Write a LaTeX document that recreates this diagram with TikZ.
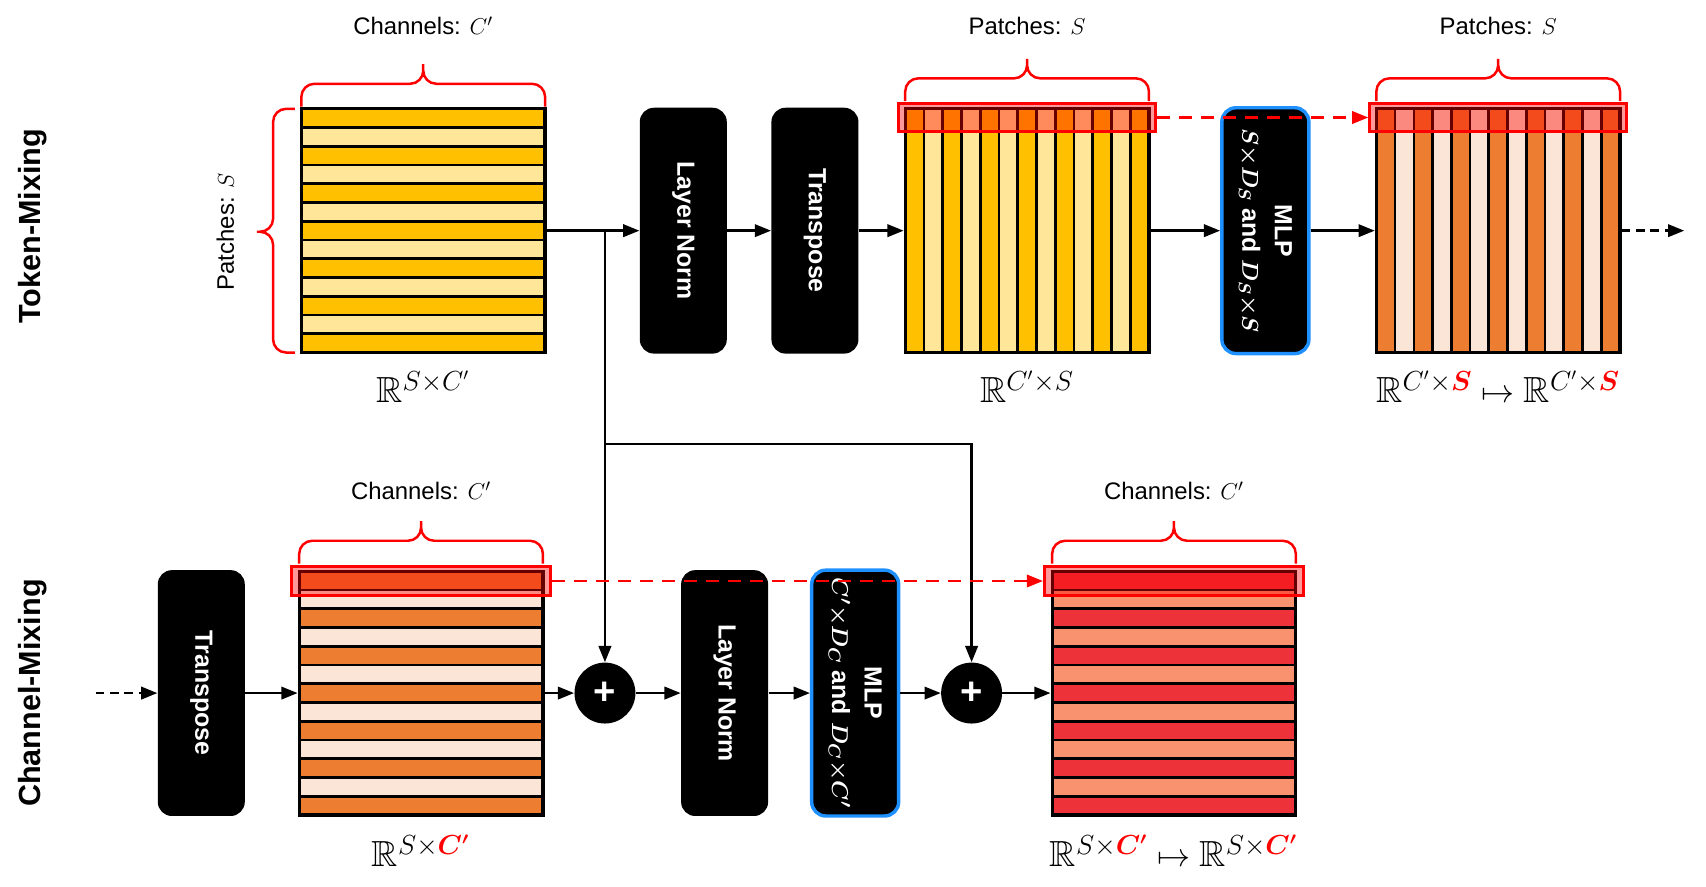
\documentclass[tikz,border=0pt]{standalone}
\usepackage{amsmath}
\usepackage{amssymb}
\usepackage{fontspec}
\setmainfont{Liberation Sans}
\usetikzlibrary{positioning,arrows.meta,calc}

\definecolor{yelDark}{HTML}{FFC000}
\definecolor{yelLight}{HTML}{FFE699}
\definecolor{orgDark}{HTML}{ED7D31}
\definecolor{orgLight}{HTML}{FBE5D6}
\definecolor{redDark}{HTML}{EE3239}
\definecolor{redLight}{HTML}{F9926E}
\definecolor{mlpBlue}{HTML}{1E90FF}
\definecolor{selRed}{HTML}{FF0000}

\tikzset{
  stripe/.style={draw=black, line width=1.4pt},
  matbox/.style={draw=black, line width=1.7pt, minimum width=4.48cm, minimum height=4.48cm, inner sep=0pt},
  opbox/.style={fill=black, rounded corners=0.26cm, minimum width=1.6cm, minimum height=4.52cm, inner sep=0pt},
  mlpbox/.style={opbox, draw=mlpBlue, line width=1.8pt},
  optext/.style={text=white, font=\bfseries\fontsize{13}{17}\selectfont, rotate=-90, align=center},
  addnode/.style={circle, fill=black, minimum size=1.12cm, inner sep=0pt, text=white, font=\bfseries\fontsize{20}{20}\selectfont},
  selbox/.style={draw=selRed, line width=1.6pt, fill=selRed, fill opacity=0.4, draw opacity=1, inner sep=0pt},
  bracestyle/.style={draw=selRed, line width=1.3pt},
  lbl/.style={font=\fontsize{12.5}{15}\selectfont},
  dimlbl/.style={font=\fontsize{19}{22}\selectfont},
  rowlbl/.style={rotate=90, font=\bfseries\fontsize{16}{19}\selectfont},
  conn/.style={line width=1.3pt, -{Triangle[length=8.5pt,width=6.5pt]}},
  dashconn/.style={conn, dash pattern=on 4.5pt off 3pt},
  seldash/.style={draw=selRed, line width=1.3pt, dash pattern=on 7pt off 4.5pt, -{Triangle[length=8.5pt,width=6.5pt]}}
}

% striped matrices: centre x, centre y, dark colour, light colour
\newcommand{\hstripes}[4]{%
  \foreach \i in {0,...,12}{
    \ifodd\i \def\stripecol{#4}\else\def\stripecol{#3}\fi
    \draw[stripe, fill=\stripecol] ({#1-112},{#2+112-\i*224/13}) rectangle ({#1+112},{#2+112-(\i+1)*224/13});
  }}
\newcommand{\vstripes}[4]{%
  \foreach \i in {0,...,12}{
    \ifodd\i \def\stripecol{#4}\else\def\stripecol{#3}\fi
    \draw[stripe, fill=\stripecol] ({#1-112+\i*224/13},{#2-112}) rectangle ({#1-112+(\i+1)*224/13},{#2+112});
  }}
% curly brace over a matrix: left x, right x, base y
\newcommand{\topbrace}[3]{%
  \draw[bracestyle] (#1,#3) -- ++(0,9) arc[start angle=180,end angle=90,radius=0.24cm]
    -- ({(#1+#2)/2-12},{#3+21}) arc[start angle=-90,end angle=0,radius=0.24cm]
    -- ({(#1+#2)/2},{#3+39}) -- ({(#1+#2)/2},{#3+33})
    arc[start angle=180,end angle=270,radius=0.24cm]
    -- ({#2-12},{#3+21}) arc[start angle=90,end angle=0,radius=0.24cm] -- (#2,#3);}

\begin{document}
\begin{tikzpicture}[x=0.02cm,y=0.02cm]
  \useasboundingbox (0,0) rectangle (1568,-815);

  % row titles
  \node[rowlbl] (tokmix) at (30,-208) {Token-Mixing};
  \node[rowlbl] (chmix) at (30,-637) {Channel-Mixing};

  % ---- token mixing ----
  \hstripes{389}{-212}{yelDark}{yelLight}
  \node[matbox] (m1) at (389,-212) {};
  \vstripes{944}{-212}{yelDark}{yelLight}
  \node[matbox] (m2) at (944,-212) {};
  \vstripes{1377}{-212}{orgDark}{orgLight}
  \node[matbox] (m3) at (1377,-212) {};

  \node[opbox] (ln1) at (628,-212) {};
  \node[optext] (ln1txt) at (ln1) {Layer Norm};
  \node[opbox] (tr1) at (749,-212) {};
  \node[optext] (tr1txt) at (tr1) {Transpose};
  \node[mlpbox] (mlp1) at (1163,-212) {};
  \node[optext] (mlp1txt) at (mlp1) {MLP\\$\boldsymbol{S{\times}D_S}$ and $\boldsymbol{D_S{\times}S}$};

  \node[selbox, minimum width=4.72cm, minimum height=0.5cm] (ov2) at (944,-108) {};
  \node[selbox, minimum width=4.72cm, minimum height=0.5cm] (ov3) at (1377,-108) {};

  \topbrace{277}{501}{-98}
  \draw[bracestyle] (271,-100) -- ++(-8,0) arc[start angle=90,end angle=180,radius=0.24cm]
    -- (251,-201) arc[start angle=0,end angle=-90,radius=0.24cm] -- (236,-213) -- (239,-213)
    arc[start angle=90,end angle=0,radius=0.24cm] -- (251,-312)
    arc[start angle=180,end angle=270,radius=0.24cm] -- (271,-324);
  \topbrace{832}{1056}{-93}
  \topbrace{1265}{1489}{-93}

  \node[lbl] (chan1) at (389,-24) {Channels: $C'$};
  \node[lbl, rotate=90] (patch1) at (207,-213) {Patches: $S$};
  \node[lbl] (patch2) at (944,-24) {Patches: $S$};
  \node[lbl] (patch3) at (1377,-24) {Patches: $S$};

  \node[dimlbl] (d1) at (389,-355) {$\mathbb{R}^{S\times C'}$};
  \node[dimlbl] (d2) at (944,-355) {$\mathbb{R}^{C'\times S}$};
  \node[dimlbl] (d3) at (1377,-355) {$\mathbb{R}^{C'\times{\color{selRed}\boldsymbol{S}}}\mapsto\mathbb{R}^{C'\times{\color{selRed}\boldsymbol{S}}}$};

  % ---- channel mixing ----
  \hstripes{387}{-637}{orgDark}{orgLight}
  \node[matbox] (m4) at (387,-637) {};
  \hstripes{1079}{-637}{redDark}{redLight}
  \node[matbox] (m5) at (1079,-637) {};

  \node[opbox] (tr2) at (185,-637) {};
  \node[optext] (tr2txt) at (tr2) {Transpose};
  \node[opbox] (ln2) at (666,-637) {};
  \node[optext] (ln2txt) at (ln2) {Layer Norm};
  \node[mlpbox] (mlp2) at (786,-637) {};
  \node[optext] (mlp2txt) at (mlp2) {MLP\\$\boldsymbol{C'{\times}D_C}$ and $\boldsymbol{D_C{\times}C'}$};

  \node[addnode] (add1) at (556,-637) {+};
  \node[addnode] (add2) at (893,-637) {+};

  \node[selbox, minimum width=4.76cm, minimum height=0.54cm] (ov4) at (387,-534) {};
  \node[selbox, minimum width=4.76cm, minimum height=0.54cm] (ov5) at (1079,-534) {};

  \topbrace{275}{499}{-518}
  \topbrace{967}{1191}{-518}

  \node[lbl] (chan2) at (387,-451) {Channels: $C'$};
  \node[lbl] (chan3) at (1079,-451) {Channels: $C'$};

  \node[dimlbl] (d4) at (387,-782) {$\mathbb{R}^{S\times{\color{selRed}\boldsymbol{C'}}}$};
  \node[dimlbl] (d5) at (1079,-782) {$\mathbb{R}^{S\times{\color{selRed}\boldsymbol{C'}}}\mapsto\mathbb{R}^{S\times{\color{selRed}\boldsymbol{C'}}}$};

  % ---- connectors ----
  \coordinate (split) at (556,-212);
  \coordinate (skip) at (556,-408);
  \coordinate (tmout) at (1548,-212);
  \coordinate (cmin) at (88,-637);

  \draw[conn] (m1.east) -- (ln1.west);
  \draw[conn] (ln1.east) -- (tr1.west);
  \draw[conn] (tr1.east) -- (m2.west);
  \draw[conn] (m2.east) -- (mlp1.west);
  \draw[conn] (mlp1.east) -- (m3.west);
  \draw[dashconn] (m3.east) -- (tmout);

  \draw[conn] (split) -- (add1.north);
  \draw[conn] (skip) -| (add2.north);

  \draw[dashconn] (cmin) -- (tr2.west);
  \draw[conn] (tr2.east) -- (m4.west);
  \draw[conn] (m4.east) -- (add1.west);
  \draw[conn] (add1.east) -- (ln2.west);
  \draw[conn] (ln2.east) -- (mlp2.west);
  \draw[conn] (mlp2.east) -- (add2.west);
  \draw[conn] (add2.east) -- (m5.west);

  \draw[seldash] (ov2.east) -- (ov3.west);
  \draw[seldash] (ov4.east) -- (ov5.west);
\end{tikzpicture}
\end{document}
